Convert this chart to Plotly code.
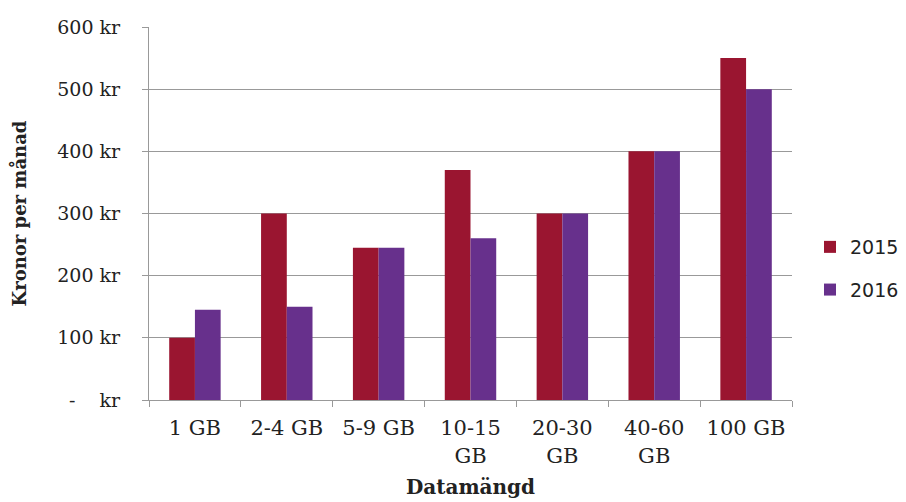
import plotly.graph_objects as go

categories = ["1 GB", "2-4 GB", "5-9 GB", "10-15<br>GB", "20-30<br>GB", "40-60<br>GB", "100 GB"]
values_2015 = [100, 300, 245, 370, 300, 400, 550]
values_2016 = [145, 150, 245, 260, 300, 400, 500]
ytick_vals = [0, 100, 200, 300, 400, 500, 600]
ytick_text = ["-\u00a0\u00a0\u00a0\u00a0kr", "100 kr", "200 kr", "300 kr", "400 kr", "500 kr", "600 kr"]

FONT = "DejaVu Serif"
fig = go.Figure()
fig.add_trace(go.Bar(x=categories, y=values_2015, name="2015", marker_color="#9A1530",
                     marker_line_width=0, legendgroup="a"))
fig.add_trace(go.Bar(x=categories, y=values_2016, name="2016", marker_color="#67308C",
                     marker_line_width=0, legendgroup="b"))

fig.update_layout(
    width=906, height=502,
    margin=dict(l=141, r=122, t=19, b=110, autoexpand=False),
    paper_bgcolor="white", plot_bgcolor="white",
    font=dict(family=FONT, size=19, color="#222"),
    barmode="group", bargap=0.44, bargroupgap=0,
    legend=dict(x=1.028, y=0.3525, yanchor="middle", xanchor="left",
                font=dict(size=19, family="DejaVu Sans"), tracegroupgap=15, itemwidth=30),
    xaxis=dict(
        showline=True, linecolor="#999", linewidth=1,
        ticks="outside", tickson="boundaries", ticklen=6, tickcolor="#999",
        ticklabelstandoff=9,
        title=dict(text="<b>Datamängd</b>", font=dict(size=20), standoff=13),
        tickfont=dict(size=21),
    ),
    yaxis=dict(
        range=[0, 600], tickvals=ytick_vals, ticktext=ytick_text,
        showline=True, linecolor="#999", linewidth=1,
        ticks="outside", ticklen=6, tickcolor="#999",
        ticklabelstandoff=18,
        showgrid=True, gridcolor="#999", gridwidth=1,
        zeroline=False,
        title=dict(text="<b>Kronor per månad</b>", font=dict(size=18), standoff=28),
        tickfont=dict(size=19),
    ),
)

fig.write_html("out.html")
